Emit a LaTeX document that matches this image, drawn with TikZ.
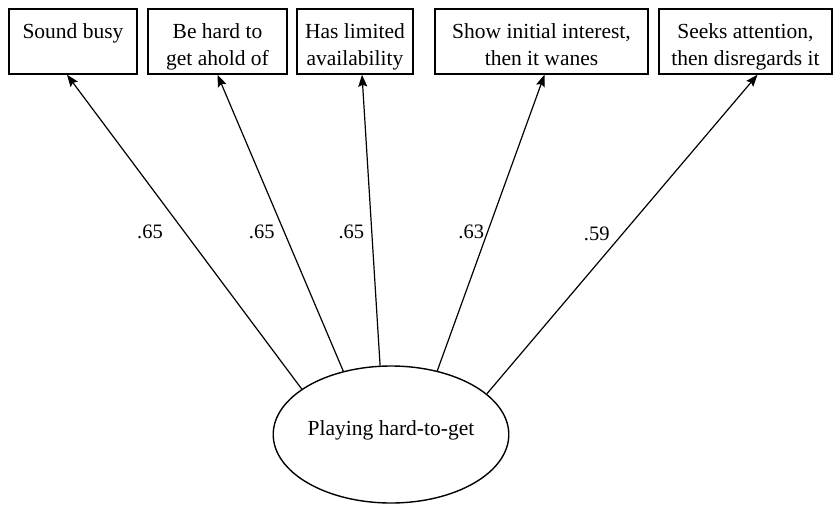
\documentclass[tikz,border=0pt]{standalone}
\usepackage{fontspec}
\setmainfont{Liberation Serif}
\usetikzlibrary{shapes.geometric,arrows.meta}

\tikzset{
  item/.style={draw, line width=1.4pt, align=center, minimum height=65pt, inner sep=0pt,
    text height=56pt, text depth=9pt, font=\rmfamily\fontsize{21.5}{27}\selectfont},
  oneline/.style={text height=29pt, text depth=36pt},
  factor/.style={draw, ellipse, line width=1.4pt, minimum width=234pt, minimum height=137pt,
    inner sep=0pt, text height=16pt, text depth=15pt, font=\rmfamily\fontsize{21.5}{27}\selectfont},
  load/.style={line width=1.2pt, -{Stealth[length=12pt,width=9pt,inset=2pt]}},
  wt/.style={inner sep=0pt, font=\rmfamily\fontsize{20.5}{24}\selectfont}
}

\begin{document}
\begin{tikzpicture}[x=1pt,y=1pt]
    \useasboundingbox (0,0) rectangle (833,-504);
    % indicators
    \node[item, oneline, minimum width=128pt] (busy) at (73,-41.5) {Sound busy};
    \node[item, minimum width=139pt] (ahold) at (217.5,-41.5) {Be hard to\\get ahold of};
    \node[item, minimum width=116pt] (avail) at (355,-41.5) {Has limited\\availability};
    \node[item, minimum width=213pt] (wanes) at (541.5,-41.5) {Show initial interest,\\then it wanes};
    \node[item, minimum width=173pt] (disreg) at (745.5,-41.5) {Seeks attention,\\then disregards it};
    % latent factor
    \node[factor] (hard) at (391,-434.5) {Playing hard-to-get};
            \path[load]
            (hard.153.4) edge node [wt, pos=.5, left=21pt] {.65} ([xshift=-6pt]busy.south)
            (hard.127.5) edge node [wt, pos=.47, left=9pt] {.65} (ahold.south)
            (hard.99) edge node [wt, pos=.46, left=7pt] {.65} ([xshift=7pt]avail.south)
            (hard.54.2) edge node [wt, pos=.47, left=3pt] {.63} ([xshift=3pt]wanes.south)
            (hard.23.8) edge node [wt, pos=.5, left=12pt] {.59} ([xshift=12pt]disreg.south);
  \end{tikzpicture}
\end{document}
